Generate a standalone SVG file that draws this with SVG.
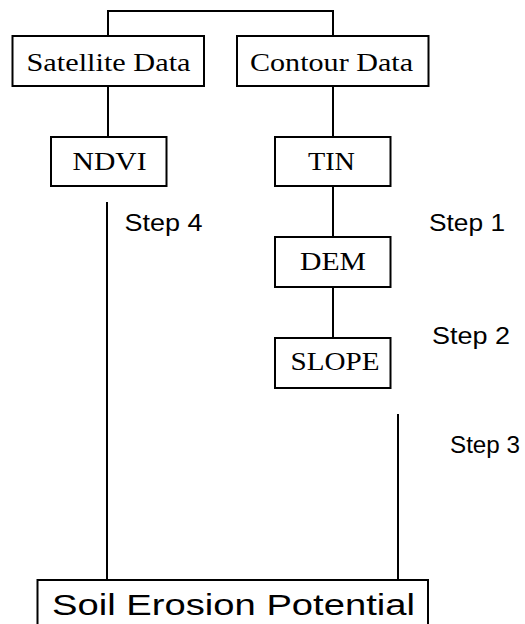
<svg xmlns="http://www.w3.org/2000/svg" width="525" height="624" viewBox="0 0 525 624">
<style>
.box{fill:#fff;stroke:#000;stroke-width:2}
.ln{stroke:#000;stroke-width:2;fill:none}
.serif{font-family:"Liberation Serif","Times New Roman",serif;font-size:26px;fill:#000}
.sans{font-family:"Liberation Sans",Arial,sans-serif;font-size:23px;fill:#000}
.big{font-family:"Liberation Sans",Arial,sans-serif;font-size:30px;fill:#000}
</style>
<rect width="525" height="624" fill="#fff"/>
<g id="connectors">
<path class="ln" d="M108,36 V11 H333 V36"/>
<line class="ln" x1="108" y1="86" x2="108" y2="137"/>
<line class="ln" x1="333" y1="86" x2="333" y2="137"/>
<line class="ln" x1="333" y1="186" x2="333" y2="237"/>
<line class="ln" x1="333" y1="287" x2="333" y2="338"/>
<line class="ln" x1="107" y1="202" x2="107" y2="580"/>
<line class="ln" x1="398" y1="414" x2="398" y2="580"/>
</g>
<g id="satellite">
<rect class="box" x="12.5" y="36" width="191.5" height="50"/>
<text class="serif" x="26.5" y="71" textLength="164" lengthAdjust="spacingAndGlyphs">Satellite Data</text>
</g>
<g id="contour">
<rect class="box" x="237" y="36" width="191.5" height="50"/>
<text class="serif" x="250" y="71" textLength="163" lengthAdjust="spacingAndGlyphs">Contour Data</text>
</g>
<g id="ndvi">
<rect class="box" x="51" y="137" width="115.5" height="49"/>
<text class="serif" x="72.5" y="169.5" textLength="74" lengthAdjust="spacingAndGlyphs">NDVI</text>
</g>
<g id="tin">
<rect class="box" x="275" y="137" width="115.5" height="49"/>
<text class="serif" x="308" y="169.5" textLength="47" lengthAdjust="spacingAndGlyphs">TIN</text>
</g>
<g id="dem">
<rect class="box" x="275" y="237" width="115.5" height="50"/>
<text class="serif" x="300" y="270" textLength="66" lengthAdjust="spacingAndGlyphs">DEM</text>
</g>
<g id="slope">
<rect class="box" x="275" y="338" width="115.5" height="50"/>
<text class="serif" x="290.5" y="369.5" textLength="89" lengthAdjust="spacingAndGlyphs">SLOPE</text>
</g>
<g id="soil">
<rect class="box" x="37.5" y="580" width="390.5" height="60"/>
<text class="big" x="52" y="615" textLength="363" lengthAdjust="spacingAndGlyphs">Soil Erosion Potential</text>
</g>
<g id="labels">
<text class="sans" x="124.5" y="230.5" textLength="78" lengthAdjust="spacingAndGlyphs">Step 4</text>
<text class="sans" x="429" y="230.5" textLength="76" lengthAdjust="spacingAndGlyphs">Step 1</text>
<text class="sans" x="432" y="344" textLength="78" lengthAdjust="spacingAndGlyphs">Step 2</text>
<text class="sans" x="450" y="452.5" textLength="70" lengthAdjust="spacingAndGlyphs">Step 3</text>
</g>
</svg>
